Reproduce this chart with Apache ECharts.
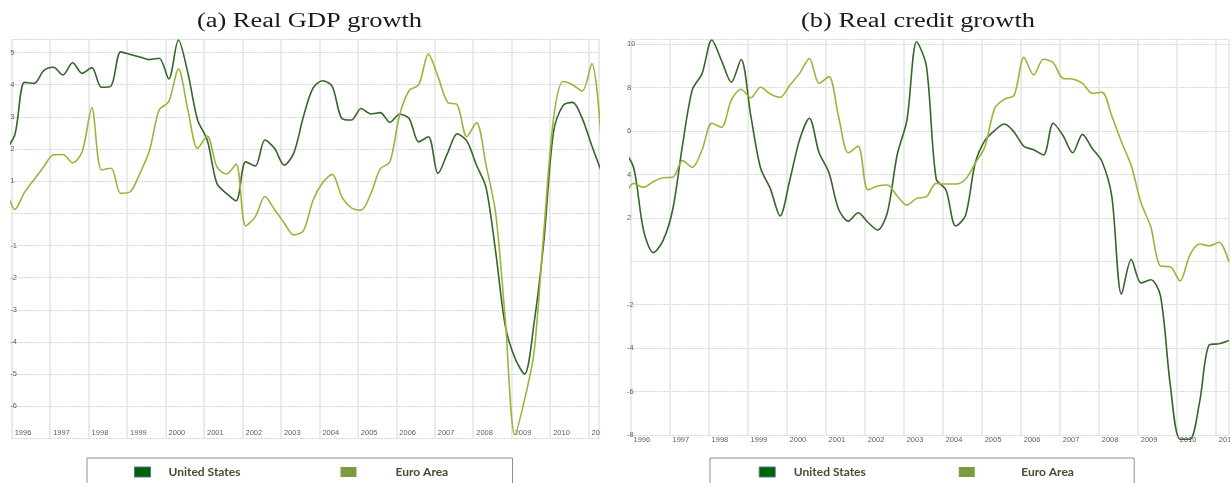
<!DOCTYPE html>
<html>
<head>
<meta charset="utf-8">
<script src="https://cdn.jsdelivr.net/npm/echarts@6/dist/echarts.min.js"></script>
<style>
  html, body { margin: 0; padding: 0; background: #fff; }
  #chart { width: 1230px; height: 483px; }
</style>
</head>
<body>
<div id="chart"></div>
<script>
// Quarterly observations, dated at the middle month of each quarter (Nov 1995 .. May 2011)
const quarterDates = [];
for (let y = 1995, m = 11; y < 2011 || (y === 2011 && m <= 5);) {
  quarterDates.push(y + '-' + String(m).padStart(2, '0'));
  m += 3;
  if (m > 12) { m -= 12; y += 1; }
}

const seriesNames = ['United States', 'Euro Area'];

// (a) Real GDP growth, % y/y
const gdpUnitedStates = [
  1.95,
  2.45, 4.07, 4.04, 4.44,
  4.54, 4.30, 4.68, 4.35,
  4.53, 3.92, 3.96, 5.02,
  4.94, 4.86, 4.78, 4.82,
  4.18, 5.39, 4.35, 2.90,
  2.28, 0.93, 0.62, 0.39,
  1.60, 1.47, 2.28, 2.02,
  1.50, 1.87, 3.00, 3.89,
  4.12, 3.95, 2.95, 2.90,
  3.26, 3.09, 3.13, 2.83,
  3.08, 2.95, 2.22, 2.38,
  1.24, 1.87, 2.47, 2.25,
  1.50, 0.80, -1.20, -3.50,
  -4.50, -5.00, -3.40, -0.90,
  2.50, 3.35, 3.45, 2.95,
  2.10, 1.30
];
const gdpEuroArea = [
  0.85,
  0.12, 0.65, 1.05, 1.45,
  1.82, 1.83, 1.57, 1.92,
  3.28, 1.35, 1.40, 0.62,
  0.67, 1.24, 1.95, 3.21,
  3.47, 4.49, 3.20, 2.02,
  2.40, 1.45, 1.22, 1.53,
  -0.39, -0.11, 0.52, 0.12,
  -0.30, -0.67, -0.55, 0.40,
  0.95, 1.21, 0.52, 0.17,
  0.10, 0.60, 1.38, 1.60,
  3.05, 3.82, 4.00, 4.95,
  4.25, 3.45, 3.38, 2.38,
  2.82, 1.50, 0.00, -3.30,
  -6.89, -5.80, -4.30, -0.60,
  2.90, 4.10, 4.00, 3.80,
  4.66, 2.20
];

// (b) Real credit growth, % y/y
const creditUnitedStates = [
  5.10,
  4.30, 1.44, 0.40, 0.95,
  2.40, 5.35, 7.90, 8.65,
  10.20, 9.25, 8.25, 9.30,
  6.70, 4.30, 3.35, 2.09,
  3.75, 5.60, 6.59, 5.00,
  4.10, 2.40, 1.85, 2.24,
  1.80, 1.44, 2.25, 4.90,
  6.50, 10.12, 9.00, 3.80,
  3.30, 1.63, 2.10, 4.52,
  5.57, 6.03, 6.33, 5.95,
  5.30, 5.14, 4.90, 6.36,
  5.80, 5.00, 5.85, 5.20,
  4.60, 3.00, -1.52, 0.09,
  -1.00, -0.85, -1.60, -5.70,
  -8.20, -8.20, -6.50, -3.85,
  -3.80, -3.65
];
const creditEuroArea = [
  2.90,
  3.59, 3.41, 3.67, 3.85,
  3.87, 4.64, 4.33, 5.13,
  6.36, 6.18, 7.43, 7.93,
  7.54, 8.02, 7.71, 7.56,
  8.12, 8.66, 9.35, 8.20,
  8.51, 6.66, 5.00, 5.31,
  3.29, 3.47, 3.52, 3.01,
  2.59, 2.90, 2.98, 3.59,
  3.56, 3.56, 3.78, 4.52,
  5.28, 7.05, 7.47, 7.66,
  9.40, 8.59, 9.31, 9.15,
  8.43, 8.40, 8.20, 7.74,
  7.79, 6.70, 5.50, 4.40,
  2.70, 1.59, -0.22, -0.25,
  -0.91, 0.29, 0.80, 0.71,
  0.88, -0.02
];

const panelTitles = ['(a) Real GDP growth', '(b) Real credit growth'];

// Decimal year for a 'YYYY-MM' date
function decimalYear(d) {
  const [y, m] = d.split('-').map(Number);
  return y + (m - 1) / 12;
}
function pairs(values) {
  return values.map((v, i) => [decimalYear(quarterDates[i]), v]);
}

const COLOR_US = '#35662a';
const COLOR_EA = '#9db43c';
const LABEL_FONT = { fontFamily: 'Liberation Sans', fontSize: 7.5, color: '#5e5e5e' };

function xAxisFor(gridIndex, max, inside, margin) {
  return {
    type: 'value', gridIndex, min: 1996, max, interval: 1,
    axisLine: { show: false }, axisTick: { show: false },
    axisLabel: Object.assign({
      inside, margin, align: 'left', padding: [0, 0, 0, 3],
      formatter: v => Number.isInteger(v) ? String(v) : ''
    }, LABEL_FONT),
    splitLine: { show: true, lineStyle: { color: '#e3e3e3', width: 1.5 } }
  };
}
function yAxisFor(gridIndex, min, max, interval, margin, showMin) {
  return {
    type: 'value', gridIndex, min, max, interval,
    axisLine: { show: false }, axisTick: { show: false },
    axisLabel: Object.assign({
      inside: true, margin, align: 'left',
      formatter: v => Number.isInteger(v) && v !== 0 && (v > min || showMin) ? String(v) : ''
    }, LABEL_FONT),
    splitLine: { show: true, lineStyle: { color: '#d4d4d4', width: 1, type: [2, 1] } }
  };
}
function lineSeries(name, color, values, axisIndex, clip) {
  return {
    type: 'line', name, xAxisIndex: axisIndex, yAxisIndex: axisIndex,
    data: pairs(values), smooth: 0.3, symbol: 'none', clip,
    lineStyle: { color, width: 1.6 }, itemStyle: { color },
    emphasis: { disabled: true }, animation: false
  };
}
function legendFor(left, padding, usTextWidth, usTextPad, eaTextPad) {
  return {
    left, top: 458, orient: 'horizontal', selectedMode: false,
    padding, itemGap: 0, itemWidth: 16, itemHeight: 10,
    borderColor: '#8e8e8e', borderWidth: 1,
    textStyle: { fontFamily: 'Lato', fontWeight: 'bold', fontSize: 12, color: '#4b4a33', lineHeight: 14 },
    data: [
      { name: seriesNames[0], icon: 'rect',
        itemStyle: { color: '#006400', borderColor: '#4d72a3', borderWidth: 1 },
        textStyle: { width: usTextWidth, padding: [0, 0, 0, usTextPad] } },
      { name: seriesNames[1], icon: 'rect',
        itemStyle: { color: '#7d9b3c', borderWidth: 0 },
        textStyle: { width: 60, padding: [0, 0, 0, eaTextPad] } }
    ]
  };
}
// Panel heading, drawn in a wide serif
function panelTitle(text, cx) {
  return {
    type: 'text', x: cx, y: 21.5, scaleX: 1.32, z: 50,
    style: { text, font: '20px "Liberation Serif"', fill: '#1a1a1a', align: 'center', verticalAlign: 'middle' }
  };
}

const chart = echarts.init(document.getElementById('chart'), null, { renderer: 'canvas' });
chart.setOption({
  backgroundColor: '#ffffff',
  animation: false,
  grid: [
    { left: 11.7, right: 631, top: 39, bottom: 44.6, outerBoundsMode: 'none', containLabel: false },
    { left: 630.5, right: 1.7, top: 38.9, bottom: 48.1, outerBoundsMode: 'none', containLabel: false }
  ],
  xAxis: [
    xAxisFor(0, 2011.27, true, 1.5),
    xAxisFor(1, 2011.32, false, 1.5)
  ],
  yAxis: [
    yAxisFor(0, -7, 5.42, 1, -1.5, false),
    yAxisFor(1, -8, 10.25, 2, -3.5, true)
  ],
  legend: [
    legendFor(87, [7, 57, 30, 47], 172, 13, 34),
    legendFor(710, [7, 53, 30, 48.7], 165, 13.6, 41.4)
  ],
  series: [
    lineSeries(seriesNames[0], COLOR_US, gdpUnitedStates, 0, true),
    lineSeries(seriesNames[1], COLOR_EA, gdpEuroArea, 0, true),
    lineSeries(seriesNames[0], COLOR_US, creditUnitedStates, 1, false),
    lineSeries(seriesNames[1], COLOR_EA, creditEuroArea, 1, false)
  ],
  graphic: [
    panelTitle(panelTitles[0], 309.5),
    panelTitle(panelTitles[1], 918),
    // the left panel clips its last year label at the plot edge
    { type: 'rect', shape: { x: 600.5, y: 420, width: 14, height: 24 }, style: { fill: '#ffffff' }, z: 100 }
  ]
});
</script>
</body>
</html>
